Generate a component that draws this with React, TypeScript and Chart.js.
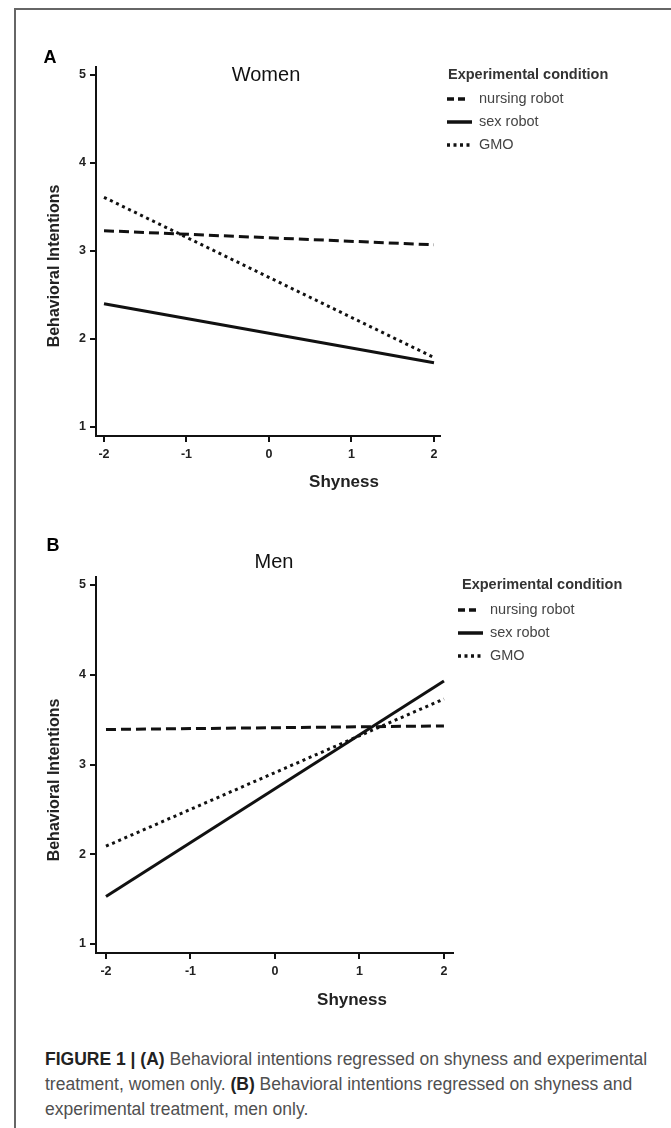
import React, { useEffect, useRef } from "react";
import { Chart, registerables } from "chart.js";

Chart.register(...registerables);

// ---------- data ----------
const shyness = [-2, 2];
const xTickValues = [-2, -1, 0, 1, 2];
const yTickValues = [1, 2, 3, 4, 5];
const conditions = ["nursing robot", "sex robot", "GMO"];

const womenNursing = [3.23, 3.07];
const womenSex = [2.4, 1.73];
const womenGMO = [3.61, 1.79];

const menNursing = [3.39, 3.43];
const menSex = [1.53, 3.93];
const menGMO = [2.09, 3.73];

const legendTitle = "Experimental condition";
const xAxisTitle = "Shyness";
const yAxisTitle = "Behavioral Intentions";

// ---------- styles ----------
const FONT = '"Liberation Sans", Arial, Helvetica, sans-serif';
const INK = "#111";
const W = 671;
const lineDashes = [[10, 5], [], [3, 3.7]];
const legendDashes = [[7, 4], [], [3, 3.5]];
const legendLengths = [18, 25, 23];

type Panel = {
  letter: string;
  title: string;
  series: number[][];
  canvasTop: number;
  canvasHeight: number;
  area: { left: number; right: number; top: number; bottom: number };
  xRange: [number, number];
  yRange: [number, number];
  letterPos: [number, number];
  titlePos: [number, number];
  legend: { titleX: number; titleY: number; markerX: number; textX: number; firstY: number; step: number };
  xTitlePos: [number, number];
  yTitlePos: [number, number];
};

const panels: Panel[] = [
  {
    letter: "A",
    title: "Women",
    series: [womenNursing, womenSex, womenGMO],
    canvasTop: 0,
    canvasHeight: 500,
    area: { left: 96, right: 440, top: 67, bottom: 436 },
    xRange: [-2.097, 2.073],
    yRange: [0.898, 5.09],
    letterPos: [50, 58],
    titlePos: [266, 75],
    legend: { titleX: 448, titleY: 75, markerX: 447, textX: 479, firstY: 99, step: 23 },
    xTitlePos: [344, 482],
    yTitlePos: [55, 266],
  },
  {
    letter: "B",
    title: "Men",
    series: [menNursing, menSex, menGMO],
    canvasTop: 500,
    canvasHeight: 520,
    area: { left: 96, right: 453, top: 577, bottom: 953 },
    xRange: [-2.118, 2.107],
    yRange: [0.9, 5.089],
    letterPos: [53, 546],
    titlePos: [274, 562],
    legend: { titleX: 462, titleY: 585, markerX: 458, textX: 490, firstY: 610, step: 23 },
    xTitlePos: [352, 1000],
    yTitlePos: [55, 780],
  },
];

function PanelChart({ p }: { p: Panel }) {
  const ref = useRef<HTMLCanvasElement | null>(null);
  useEffect(() => {
    if (!ref.current) return;
    const off = p.canvasTop;
    const H = p.canvasHeight;
    const decor = {
      id: "decor",
      afterDraw(chart: any) {
        const ctx = chart.ctx as CanvasRenderingContext2D;
        ctx.save();
        ctx.fillStyle = "#000";
        ctx.textBaseline = "middle";
        ctx.font = `bold 18px ${FONT}`;
        ctx.textAlign = "center";
        ctx.fillText(p.letter, p.letterPos[0], p.letterPos[1] - off);
        ctx.font = `20px ${FONT}`;
        ctx.fillStyle = "#111";
        ctx.fillText(p.title, p.titlePos[0], p.titlePos[1] - off);
        ctx.font = `bold 17px ${FONT}`;
        ctx.fillStyle = "#222";
        ctx.fillText(xAxisTitle, p.xTitlePos[0], p.xTitlePos[1] - off);
        ctx.save();
        ctx.translate(p.yTitlePos[0], p.yTitlePos[1] - off);
        ctx.rotate(-Math.PI / 2);
        ctx.font = `bold 16px ${FONT}`;
        ctx.fillText(yAxisTitle, 0, 0);
        ctx.restore();
        const L = p.legend;
        ctx.textAlign = "left";
        ctx.font = `bold 14.5px ${FONT}`;
        ctx.fillStyle = "#333";
        ctx.fillText(legendTitle, L.titleX, L.titleY - off);
        ctx.font = `14.5px ${FONT}`;
        conditions.forEach((c, i) => {
          const y = L.firstY + i * L.step - off;
          ctx.save();
          ctx.strokeStyle = INK;
          ctx.lineWidth = 3.5;
          ctx.lineCap = "butt";
          ctx.setLineDash(legendDashes[i]);
          ctx.beginPath();
          ctx.moveTo(L.markerX, y);
          ctx.lineTo(L.markerX + legendLengths[i], y);
          ctx.stroke();
          ctx.restore();
          ctx.fillStyle = "#444";
          ctx.fillText(c, L.textX, y);
        });
        ctx.restore();
      },
    };
    const tickFont = { family: FONT, size: 12.5, weight: "bold" as const };
    const chart = new Chart(ref.current, {
      type: "line",
      data: {
        datasets: p.series.map((s, i) => ({
          label: conditions[i],
          data: s.map((v, j) => ({ x: shyness[j], y: v })),
          borderColor: INK,
          borderWidth: 3,
          borderDash: lineDashes[i],
          borderCapStyle: "butt" as const,
          pointRadius: 0,
          tension: 0,
          fill: false,
        })),
      },
      options: {
        animation: false,
        responsive: false,
        maintainAspectRatio: false,
        layout: {
          padding: { left: 0, right: W - p.area.right, top: p.area.top - off, bottom: 0 },
        },
        plugins: { legend: { display: false }, tooltip: { enabled: false } },
        scales: {
          x: {
            type: "linear",
            min: p.xRange[0],
            max: p.xRange[1],
            afterFit: (s: any) => {
              s.height = H - (p.area.bottom - off);
            },
            afterBuildTicks: (s: any) => {
              s.ticks = xTickValues.map((v) => ({ value: v }));
            },
            grid: { display: true, drawOnChartArea: false, drawTicks: true, tickLength: 6, color: INK, lineWidth: 2 },
            border: { display: true, color: INK, width: 2 },
            ticks: {
              color: "#222",
              font: tickFont,
              padding: 5,
              autoSkip: false,
              maxRotation: 0,
              callback: (v: any) => String(v),
            },
          },
          y: {
            type: "linear",
            min: p.yRange[0],
            max: p.yRange[1],
            afterFit: (s: any) => {
              s.width = p.area.left;
            },
            afterBuildTicks: (s: any) => {
              s.ticks = yTickValues.map((v) => ({ value: v }));
            },
            grid: { display: true, drawOnChartArea: false, drawTicks: true, tickLength: 6, color: INK, lineWidth: 2 },
            border: { display: true, color: INK, width: 2 },
            ticks: {
              color: "#222",
              font: tickFont,
              padding: 4,
              autoSkip: false,
              callback: (v: any) => String(v),
            },
          },
        },
      },
      plugins: [decor],
    });
    return () => chart.destroy();
  }, [p]);
  return (
    <canvas
      ref={ref}
      width={W}
      height={p.canvasHeight}
      style={{ position: "absolute", left: 0, top: p.canvasTop, width: W, height: p.canvasHeight }}
    />
  );
}

export default function App() {
  const regular = { color: "#505050" };
  const bold = { color: "#222", fontWeight: 700 as const };
  return (
    <div
      style={{
        position: "absolute",
        left: 0,
        top: 0,
        width: W,
        height: 1128,
        overflow: "hidden",
        background: "#fff",
        fontFamily: FONT,
      }}
    >
      <div
        style={{
          position: "absolute",
          left: 14,
          top: 8,
          width: 700,
          height: 1200,
          borderTop: "2px solid #666",
          borderLeft: "2px solid #666",
        }}
      />
      {panels.map((p) => (
        <PanelChart key={p.letter} p={p} />
      ))}
      <div
        style={{
          position: "absolute",
          left: 45,
          top: 1047,
          fontSize: 17.5,
          lineHeight: "25px",
          whiteSpace: "nowrap",
          ...regular,
        }}
      >
        <span style={bold}>FIGURE 1 | (A)</span> Behavioral intentions regressed on shyness and experimental
        <br />
        treatment, women only. <span style={bold}>(B)</span> Behavioral intentions regressed on shyness and
        <br />
        experimental treatment, men only.
      </div>
    </div>
  );
}
